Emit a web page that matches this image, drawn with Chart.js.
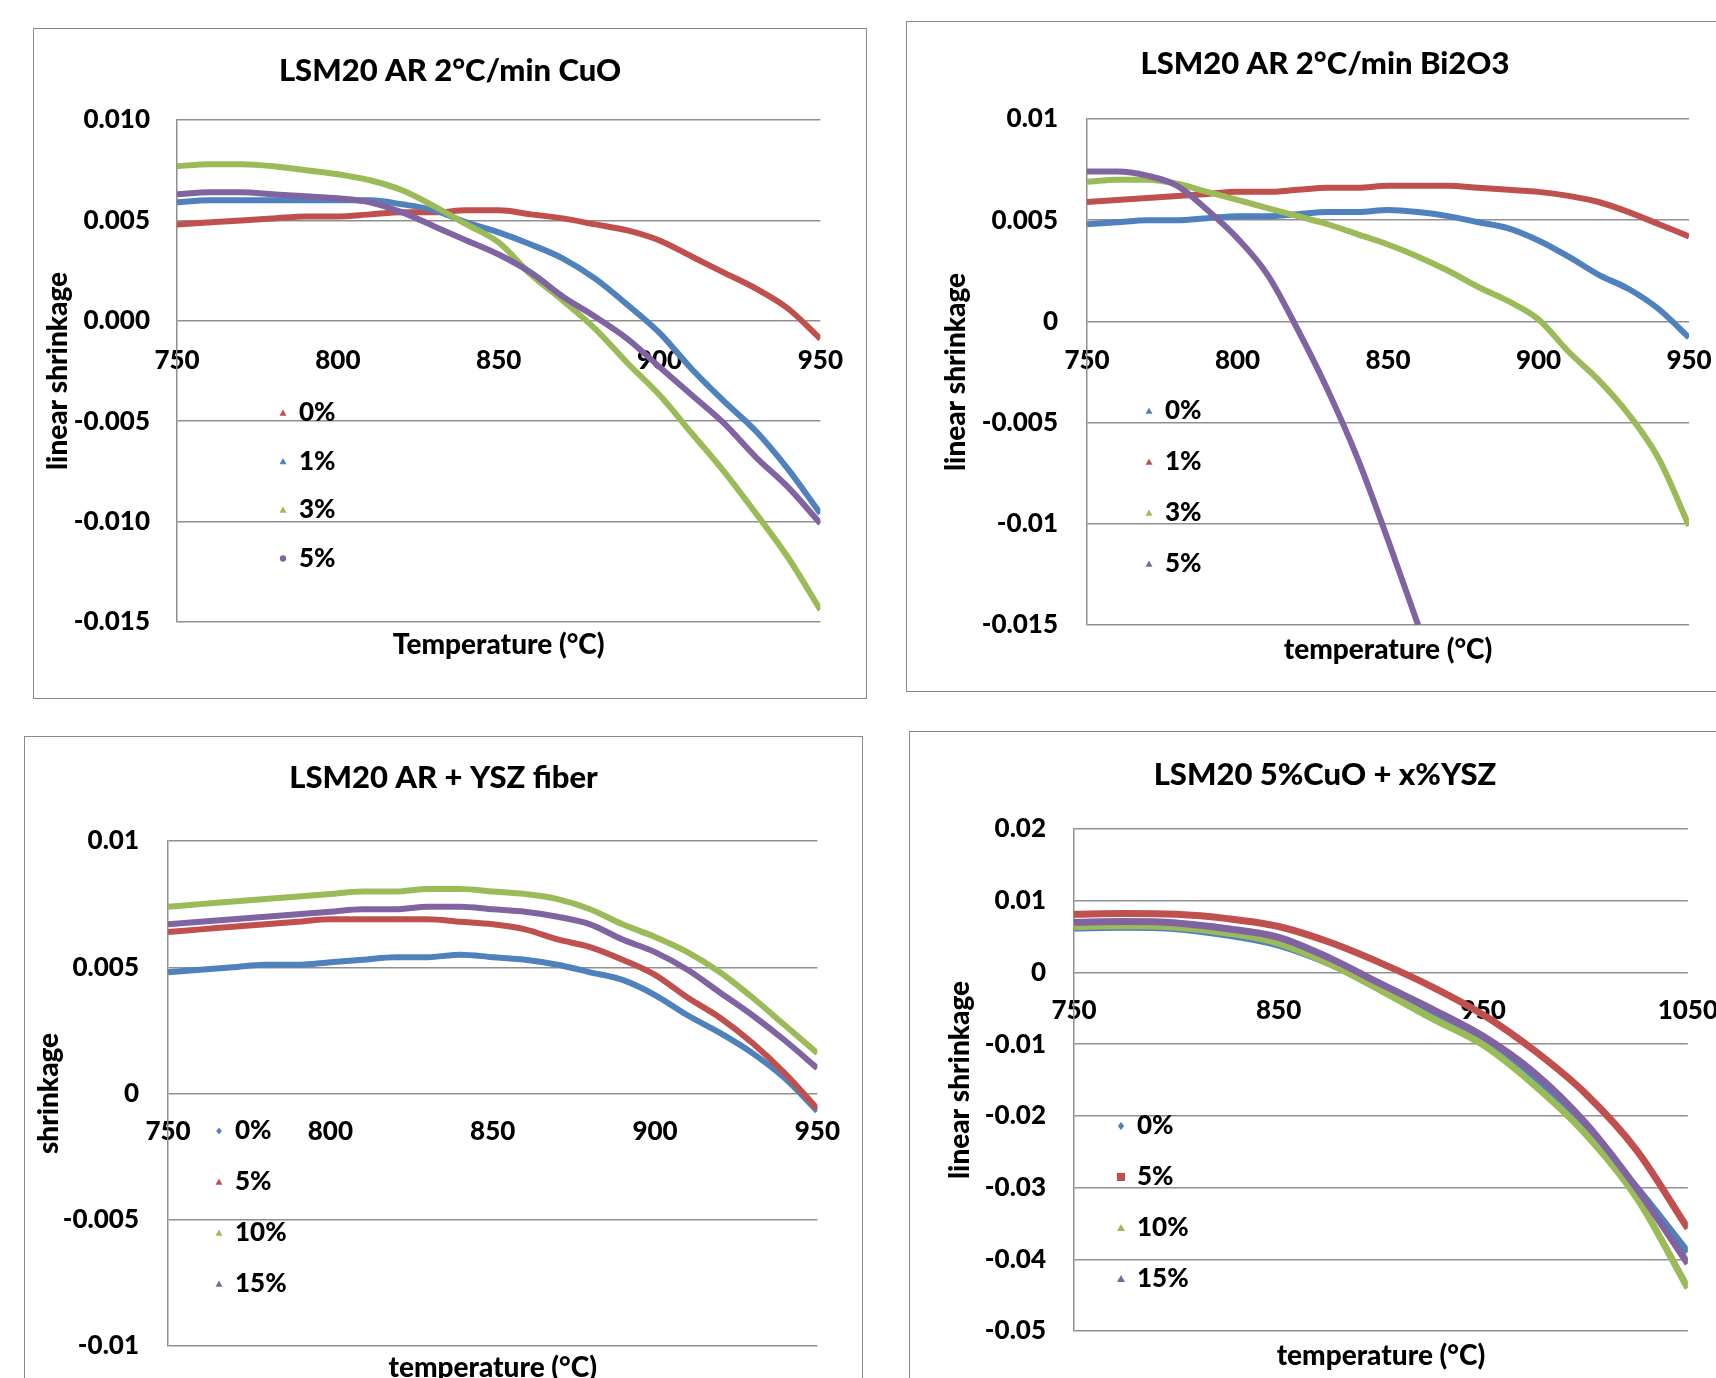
<!DOCTYPE html>
<html>
<head>
<meta charset="utf-8">
<title>LSM20 shrinkage</title>
<script src="https://cdn.jsdelivr.net/npm/chart.js@4.4.1/dist/chart.umd.min.js"></script>
<style>
  html, body { margin: 0; padding: 0; background: #fff; width: 1716px; height: 1378px; overflow: hidden; }
  .frame { position: absolute; box-sizing: border-box; border: 1.5px solid #8a8a8a; }
  canvas { position: absolute; }
</style>
</head>
<body>
<script>
/* Excel-2007 style palette */
const BLUE = '#4F81BD';
const RED = '#C0504D';
const GREEN = '#9BBB59';
const PURPLE = '#8064A2';
const GRID = '#8f8f8f';
const FONT = "Lato, 'Noto Sans', sans-serif";
const WEIGHT = '900';
const SIZE_TITLE = 31;
const SIZE_TICK = 26;
const SIZE_AXIS = 28;
const SIZE_LEGEND = 26;

// ---- LSM20 AR 2oC/min CuO ----
const cuoTemps = [750, 760, 770, 780, 790, 800, 810, 820, 830, 840, 850, 860, 870, 880, 890, 900, 910, 920, 930, 940, 950];
const cuo0 = [0.0048, 0.0049, 0.0050, 0.0051, 0.0052, 0.0052, 0.0053, 0.0054, 0.0054, 0.0055, 0.0055, 0.0053, 0.0051, 0.0048, 0.0045, 0.0040, 0.0032, 0.0024, 0.0016, 0.0006, -0.0009];
const cuo1 = [0.0059, 0.0060, 0.0060, 0.0060, 0.0060, 0.0060, 0.0060, 0.0058, 0.0055, 0.0049, 0.0044, 0.0038, 0.0031, 0.0021, 0.0008, -0.0006, -0.0024, -0.0040, -0.0055, -0.0074, -0.0096];
const cuo3 = [0.0077, 0.0078, 0.0078, 0.0077, 0.0075, 0.0073, 0.0070, 0.0065, 0.0057, 0.0048, 0.0039, 0.0023, 0.0010, -0.0004, -0.0021, -0.0037, -0.0056, -0.0075, -0.0096, -0.0118, -0.0144];
const cuo5 = [0.0063, 0.0064, 0.0064, 0.0063, 0.0062, 0.0061, 0.0059, 0.0054, 0.0047, 0.0040, 0.0033, 0.0024, 0.0012, 0.0002, -0.0009, -0.0023, -0.0037, -0.0051, -0.0068, -0.0083, -0.0101];
const cuoXTicks = [750, 800, 850, 900, 950];
const cuoXLabels = ['750', '800', '850', '900', '950'];
const cuoYTicks = [-0.015, -0.010, -0.005, 0, 0.005, 0.010];
const cuoYLabels = ['-0.015', '-0.010', '-0.005', '0.000', '0.005', '0.010'];

// ---- LSM20 AR 2oC/min Bi2O3 ----
const biTemps = [750, 760, 770, 780, 790, 800, 810, 820, 830, 840, 850, 860, 870, 880, 890, 900, 910, 920, 930, 940, 950];
const bi0 = [0.0048, 0.0049, 0.0050, 0.0050, 0.0051, 0.0052, 0.0052, 0.0053, 0.0054, 0.0054, 0.0055, 0.0054, 0.0052, 0.0049, 0.0046, 0.0040, 0.0032, 0.0023, 0.0016, 0.0006, -0.0008];
const bi1 = [0.0059, 0.0060, 0.0061, 0.0062, 0.0063, 0.0064, 0.0064, 0.0065, 0.0066, 0.0066, 0.0067, 0.0067, 0.0067, 0.0066, 0.0065, 0.0064, 0.0062, 0.0059, 0.0054, 0.0048, 0.0042];
const bi3 = [0.0069, 0.0070, 0.0070, 0.0068, 0.0064, 0.0060, 0.0056, 0.0052, 0.0048, 0.0043, 0.0038, 0.0032, 0.0025, 0.0017, 0.0010, 0.0001, -0.0015, -0.0029, -0.0046, -0.0068, -0.0101];
const bi5 = [0.0074, 0.0074, 0.0072, 0.0067, 0.0055, 0.0041, 0.0023, -0.0004, -0.0034, -0.0068, -0.0108, -0.0150, null, null, null, null, null, null, null, null, null];
const biXTicks = [750, 800, 850, 900, 950];
const biXLabels = ['750', '800', '850', '900', '950'];
const biYTicks = [-0.015, -0.01, -0.005, 0, 0.005, 0.01];
const biYLabels = ['-0.015', '-0.01', '-0.005', '0', '0.005', '0.01'];

// ---- LSM20 AR + YSZ fiber ----
const fiberTemps = [750, 760, 770, 780, 790, 800, 810, 820, 830, 840, 850, 860, 870, 880, 890, 900, 910, 920, 930, 940, 950];
const fiber0 = [0.0048, 0.0049, 0.0050, 0.0051, 0.0051, 0.0052, 0.0053, 0.0054, 0.0054, 0.0055, 0.0054, 0.0053, 0.0051, 0.0048, 0.0045, 0.0039, 0.0031, 0.0024, 0.0016, 0.0006, -0.0007];
const fiber5 = [0.0064, 0.0065, 0.0066, 0.0067, 0.0068, 0.0069, 0.0069, 0.0069, 0.0069, 0.0068, 0.0067, 0.0065, 0.0061, 0.0058, 0.0053, 0.0047, 0.0038, 0.0030, 0.0020, 0.0008, -0.0006];
const fiber10 = [0.0074, 0.0075, 0.0076, 0.0077, 0.0078, 0.0079, 0.0080, 0.0080, 0.0081, 0.0081, 0.0080, 0.0079, 0.0077, 0.0073, 0.0067, 0.0062, 0.0056, 0.0048, 0.0038, 0.0027, 0.0016];
const fiber15 = [0.0067, 0.0068, 0.0069, 0.0070, 0.0071, 0.0072, 0.0073, 0.0073, 0.0074, 0.0074, 0.0073, 0.0072, 0.0070, 0.0067, 0.0061, 0.0056, 0.0049, 0.0040, 0.0031, 0.0021, 0.0010];
const fiberXTicks = [750, 800, 850, 900, 950];
const fiberXLabels = ['750', '800', '850', '900', '950'];
const fiberYTicks = [-0.01, -0.005, 0, 0.005, 0.01];
const fiberYLabels = ['-0.01', '-0.005', '0', '0.005', '0.01'];

// ---- LSM20 5%CuO + x%YSZ ----
const yszTemps = [750, 775, 800, 825, 850, 875, 900, 925, 950, 975, 1000, 1025, 1050];
const ysz0 = [0.0062, 0.0063, 0.0061, 0.0052, 0.0038, 0.0012, -0.0022, -0.0060, -0.0096, -0.0151, -0.0217, -0.0300, -0.0390];
const ysz5 = [0.0081, 0.0082, 0.0081, 0.0075, 0.0064, 0.0042, 0.0013, -0.0020, -0.0059, -0.0109, -0.0169, -0.0248, -0.0357];
const ysz10 = [0.0064, 0.0065, 0.0063, 0.0055, 0.0041, 0.0012, -0.0025, -0.0064, -0.0101, -0.0157, -0.0225, -0.0314, -0.0440];
const ysz15 = [0.0070, 0.0071, 0.0069, 0.0061, 0.0049, 0.0020, -0.0016, -0.0051, -0.0089, -0.0140, -0.0210, -0.0301, -0.0406];
const yszXTicks = [750, 850, 950, 1050];
const yszXLabels = ['750', '850', '950', '1050'];
const yszYTicks = [-0.05, -0.04, -0.03, -0.02, -0.01, 0, 0.01, 0.02];
const yszYLabels = ['-0.05', '-0.04', '-0.03', '-0.02', '-0.01', '0', '0.01', '0.02'];

// small legend drawn inside the plot, Excel style
function drawMarker(ctx, shape, x, y, r, color) {
  ctx.fillStyle = color;
  ctx.beginPath();
  if (shape === 'triangle') {
    ctx.moveTo(x, y - r);
    ctx.lineTo(x + r, y + r * 0.75);
    ctx.lineTo(x - r, y + r * 0.75);
  } else if (shape === 'diamond') {
    ctx.moveTo(x, y - r);
    ctx.lineTo(x + r * 0.8, y);
    ctx.lineTo(x, y + r);
    ctx.lineTo(x - r * 0.8, y);
  } else if (shape === 'square') {
    ctx.rect(x - r, y - r, 2 * r, 2 * r);
  } else {
    ctx.arc(x, y, r * 0.9, 0, Math.PI * 2);
  }
  ctx.closePath();
  ctx.fill();
}

const insideLegend = {
  id: 'insideLegend',
  afterDraw(chart, args, opts) {
    const ctx = chart.ctx;
    ctx.save();
    ctx.font = `${WEIGHT} ${SIZE_LEGEND}px ${FONT}`;
    ctx.textBaseline = 'middle';
    ctx.textAlign = 'left';
    chart.data.datasets.forEach((ds, i) => {
      const y = opts.y + i * opts.dy;
      drawMarker(ctx, opts.markers[i], opts.x, y, opts.r, ds.borderColor);
      ctx.fillStyle = '#000';
      ctx.fillText(ds.label, opts.textX, y);
    });
    ctx.restore();
  }
};

function makeChart(p) {
  const [L, T, W, H] = p.box;
  const a = p.area;
  const frame = document.createElement('div');
  frame.className = 'frame';
  Object.assign(frame.style, { left: L + 'px', top: T + 'px', width: W + 'px', height: H + 'px' });
  document.body.appendChild(frame);
  const canvas = document.createElement('canvas');
  canvas.width = W;
  canvas.height = H;
  Object.assign(canvas.style, { left: L + 'px', top: T + 'px', width: W + 'px', height: H + 'px' });
  document.body.appendChild(canvas);

  const tLH = SIZE_TITLE * 1.2;
  const aLH = SIZE_AXIS * 1.2;
  const font = size => ({ family: FONT, size, weight: WEIGHT });

  const datasets = p.series.map((s, i) => ({
    label: s.label,
    data: s.values.map((v, j) => ({ x: p.temps[j], y: v })).filter(d => d.y !== null),
    borderColor: s.color,
    backgroundColor: s.color,
    borderWidth: p.lineWidth,
    pointRadius: 0,
    cubicInterpolationMode: 'monotone',
    xAxisID: 'x',
    yAxisID: 'y',
    order: p.series.length - i   // later series drawn on top, like Excel
  }));

  return new Chart(canvas, {
    type: 'line',
    data: { datasets },
    plugins: [insideLegend],
    options: {
      responsive: false,
      animation: false,
      devicePixelRatio: 1,
      events: [],
      layout: { padding: 0, autoPadding: false },
      plugins: {
        legend: { display: false },
        tooltip: { enabled: false },
        title: {
          display: true,
          text: p.title,
          color: '#000',
          font: font(SIZE_TITLE),
          padding: { top: p.titleY - tLH / 2, bottom: a.t - p.titleY - tLH / 2 }
        },
        insideLegend: p.legend
      },
      scales: {
        x: {
          type: 'linear',
          position: { y: 0 },
          min: p.xTicks[0],
          max: p.xTicks[p.xTicks.length - 1],
          afterBuildTicks: ax => { ax.ticks = p.xTicks.map(v => ({ value: v })); },
          afterFit: ax => { ax.height = 0; },
          grid: { display: false, drawTicks: false },
          border: { display: false },
          ticks: {
            autoSkip: false, maxRotation: 0, padding: p.xPad, color: '#000', font: font(SIZE_TICK),
            callback: (v, i) => p.xLabels[i]
          }
        },
        x2: {
          type: 'linear',
          position: 'bottom',
          min: p.xTicks[0],
          max: p.xTicks[p.xTicks.length - 1],
          afterFit: ax => { ax.height = H - a.b; },
          grid: { display: false, drawTicks: false },
          border: { display: false },
          ticks: { display: false },
          title: {
            display: true, text: p.xTitle, color: '#000', font: font(SIZE_AXIS),
            padding: { top: 0, bottom: H - p.xTitleY - aLH / 2 }
          }
        },
        y: {
          type: 'linear',
          position: 'left',
          min: p.yTicks[0],
          max: p.yTicks[p.yTicks.length - 1],
          afterBuildTicks: ax => { ax.ticks = p.yTicks.map(v => ({ value: v })); },
          afterFit: ax => { ax.width = a.l; },
          grid: { color: GRID, lineWidth: 1.5, drawTicks: false },
          border: { display: true, color: GRID, width: 1.5 },
          ticks: { padding: p.yPad, color: '#000', font: font(SIZE_TICK), callback: (v, i) => p.yLabels[i] },
          title: {
            display: true, text: p.yTitle, color: '#000', font: font(SIZE_AXIS),
            padding: { top: p.yTitleX - aLH / 2, bottom: 0 }
          }
        },
        y2: {
          type: 'linear',
          position: 'right',
          afterFit: ax => { ax.width = W - a.r; },
          grid: { display: false, drawTicks: false },
          border: { display: false },
          ticks: { display: false }
        }
      }
    }
  });
}

makeChart({
  box: [33, 28, 834, 671],
  area: { l: 144, t: 92, r: 788, b: 594 },
  title: 'LSM20 AR 2°C/min CuO', titleY: 43,
  xTitle: 'Temperature (°C)', xTitleY: 617,
  yTitle: 'linear shrinkage', yTitleX: 25,
  xPad: 24, yPad: 27, lineWidth: 6,
  temps: cuoTemps, xTicks: cuoXTicks, xLabels: cuoXLabels, yTicks: cuoYTicks, yLabels: cuoYLabels,
  series: [
    { label: '0%', values: cuo0, color: RED },
    { label: '1%', values: cuo1, color: BLUE },
    { label: '3%', values: cuo3, color: GREEN },
    { label: '5%', values: cuo5, color: PURPLE }
  ],
  legend: { x: 250, textX: 266, y: 385, dy: 48.5, r: 3.5, markers: ['triangle', 'triangle', 'triangle', 'circle'] }
});

makeChart({
  box: [906, 21, 838, 671],
  area: { l: 181, t: 98, r: 783, b: 604 },
  title: 'LSM20 AR 2°C/min Bi2O3', titleY: 43,
  xTitle: 'temperature (°C)', xTitleY: 629,
  yTitle: 'linear shrinkage', yTitleX: 50,
  xPad: 24, yPad: 29, lineWidth: 6,
  temps: biTemps, xTicks: biXTicks, xLabels: biXLabels, yTicks: biYTicks, yLabels: biYLabels,
  series: [
    { label: '0%', values: bi0, color: BLUE },
    { label: '1%', values: bi1, color: RED },
    { label: '3%', values: bi3, color: GREEN },
    { label: '5%', values: bi5, color: PURPLE }
  ],
  legend: { x: 243, textX: 259, y: 390, dy: 51, r: 3.5, markers: ['triangle', 'triangle', 'triangle', 'triangle'] }
});

makeChart({
  box: [24, 736, 839, 685],
  area: { l: 144, t: 105, r: 796, b: 610 },
  title: 'LSM20 AR + YSZ fiber', titleY: 42,
  xTitle: 'temperature (°C)', xTitleY: 632,
  yTitle: 'shrinkage', yTitleX: 25,
  xPad: 23, yPad: 29, lineWidth: 6,
  temps: fiberTemps, xTicks: fiberXTicks, xLabels: fiberXLabels, yTicks: fiberYTicks, yLabels: fiberYLabels,
  series: [
    { label: '0%', values: fiber0, color: BLUE },
    { label: '5%', values: fiber5, color: RED },
    { label: '10%', values: fiber10, color: GREEN },
    { label: '15%', values: fiber15, color: PURPLE }
  ],
  legend: { x: 195, textX: 211, y: 395, dy: 51, r: 3.5, markers: ['diamond', 'triangle', 'triangle', 'triangle'] }
});

makeChart({
  box: [909, 731, 832, 670],
  area: { l: 165, t: 98, r: 783, b: 600 },
  title: 'LSM20 5%CuO + x%YSZ', titleY: 44,
  xTitle: 'temperature (°C)', xTitleY: 625,
  yTitle: 'linear shrinkage', yTitleX: 51,
  xPad: 23, yPad: 28, lineWidth: 7,
  temps: yszTemps, xTicks: yszXTicks, xLabels: yszXLabels, yTicks: yszYTicks, yLabels: yszYLabels,
  series: [
    { label: '0%', values: ysz0, color: BLUE },
    { label: '5%', values: ysz5, color: RED },
    { label: '10%', values: ysz10, color: GREEN },
    { label: '15%', values: ysz15, color: PURPLE }
  ],
  legend: { x: 212, textX: 228, y: 395, dy: 51, r: 4, markers: ['diamond', 'square', 'triangle', 'triangle'] }
});
</script>
</body>
</html>
